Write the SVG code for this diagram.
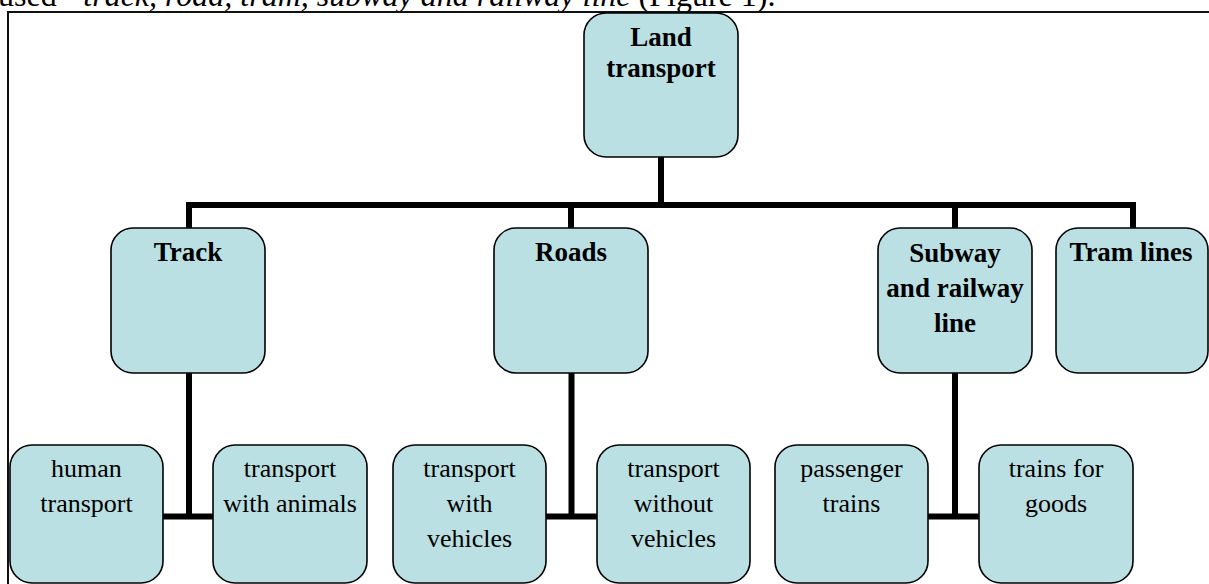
<svg xmlns="http://www.w3.org/2000/svg" width="1209" height="584" viewBox="0 0 1209 584">
<style>
.box{fill:#BAE0E3;stroke:#000;stroke-width:1.6}
.b{font-family:"Liberation Serif",serif;font-weight:bold;font-size:27px;fill:#000;text-anchor:middle}
.r{font-family:"Liberation Serif",serif;font-size:26px;fill:#000;text-anchor:middle}
.c{fill:none;stroke:#000;stroke-width:6;stroke-linecap:butt;stroke-linejoin:miter}
</style>
<rect width="1209" height="584" fill="#fff"/>
<text x="-2" y="6" font-family="Liberation Serif,serif" font-size="32" fill="#000">used - <tspan font-style="italic">track, road, tram, subway and railway line</tspan> (Figure 1).</text>
<path d="M8 584 V12 H1209" fill="none" stroke="#111" stroke-width="2"/>
<g id="connectors">
<path class="c" d="M661 157 V205"/>
<path class="c" d="M189 228 V205 H1133 V228"/>
<path class="c" d="M571 205 V228"/>
<path class="c" d="M955 205 V228"/>
<path class="c" d="M189 373 V517"/>
<path class="c" d="M163 516.5 H213"/>
<path class="c" d="M571.5 373 V517"/>
<path class="c" d="M546 516.5 H597"/>
<path class="c" d="M955 373 V517"/>
<path class="c" d="M928 516.5 H979"/>
</g>
<g id="land"><rect class="box" x="584" y="13" width="154" height="144" rx="22"/><text class="b" x="661" y="46">Land</text><text class="b" x="661" y="77">transport</text></g>
<g id="track"><rect class="box" x="111" y="228" width="154" height="145" rx="22"/><text class="b" x="188" y="261">Track</text></g>
<g id="roads"><rect class="box" x="494" y="228" width="154" height="145" rx="22"/><text class="b" x="571" y="261">Roads</text></g>
<g id="subway"><rect class="box" x="878" y="228" width="154" height="145" rx="22"/><text class="b" x="955" y="262">Subway</text><text class="b" x="955" y="297">and railway</text><text class="b" x="955" y="332">line</text></g>
<g id="tram"><rect class="box" x="1056" y="228" width="152" height="145" rx="22"/><text class="b" x="1131" y="261">Tram lines</text></g>
<g id="human"><rect class="box" x="10" y="445" width="153" height="138" rx="22"/><text class="r" x="86.5" y="477">human</text><text class="r" x="86.5" y="512">transport</text></g>
<g id="animals"><rect class="box" x="213" y="445" width="154" height="138" rx="22"/><text class="r" x="290" y="477">transport</text><text class="r" x="290" y="512">with animals</text></g>
<g id="withveh"><rect class="box" x="393" y="445" width="153" height="138" rx="22"/><text class="r" x="469.5" y="477">transport</text><text class="r" x="469.5" y="512">with</text><text class="r" x="469.5" y="547">vehicles</text></g>
<g id="withoutveh"><rect class="box" x="597" y="445" width="153" height="138" rx="22"/><text class="r" x="673.5" y="477">transport</text><text class="r" x="673.5" y="512">without</text><text class="r" x="673.5" y="547">vehicles</text></g>
<g id="passenger"><rect class="box" x="775" y="445" width="153" height="138" rx="22"/><text class="r" x="851.5" y="477">passenger</text><text class="r" x="851.5" y="512">trains</text></g>
<g id="goods"><rect class="box" x="979" y="445" width="154" height="138" rx="22"/><text class="r" x="1056" y="477">trains for</text><text class="r" x="1056" y="512">goods</text></g>
</svg>
